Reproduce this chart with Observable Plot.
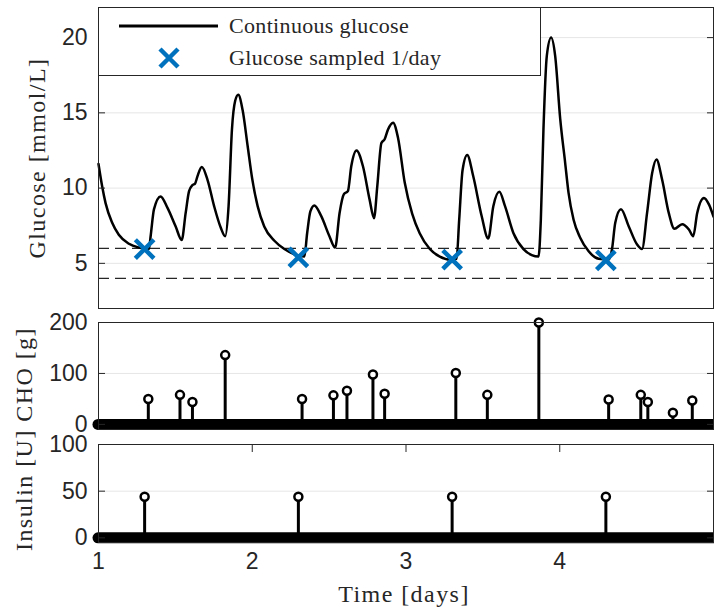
<!DOCTYPE html>
<html><head><meta charset="utf-8">
<script src="https://cdn.jsdelivr.net/npm/d3@7"></script>
<script src="https://cdn.jsdelivr.net/npm/@observablehq/plot@0.6"></script>
<style>
body{margin:0;background:#fff;}
#wrap{position:relative;width:714px;height:608px;overflow:hidden;background:#fff;}
#wrap > svg{overflow:visible;position:absolute;left:0;}
.lab{position:absolute;font-family:"Liberation Serif",serif;font-size:24px;color:#262626;white-space:nowrap;transform:translate(-50%,-50%);letter-spacing:0.06em;}
.rot{transform:translate(-50%,-50%) rotate(-90deg);}
#legend{position:absolute;left:98px;top:7px;width:441px;height:67px;border:1px solid #262626;background:#fff;box-sizing:content-box;}
#legend .row{position:absolute;left:0;height:30px;display:flex;align-items:center;font-family:"Liberation Serif",serif;font-size:22px;color:#262626;white-space:nowrap;letter-spacing:0.015em;}
</style></head><body><div id="wrap"></div><script>
// ---- data ----
const glucoseTime = [1.000,1.024,1.046,1.089,1.132,1.198,1.263,1.328,1.339,1.361,1.404,1.448,1.502,1.541,1.567,1.589,1.611,1.628,1.644,1.672,1.709,1.752,1.796,1.824,1.846,1.868,1.889,1.909,1.937,1.970,2.000,2.035,2.078,2.144,2.209,2.274,2.339,2.357,2.378,2.404,2.448,2.502,2.539,2.568,2.596,2.622,2.644,2.678,2.720,2.763,2.792,2.813,2.840,2.861,2.883,2.916,2.948,2.992,3.040,3.089,3.155,3.220,3.285,3.329,3.346,3.368,3.398,3.437,3.492,3.535,3.568,3.607,3.644,3.699,3.764,3.818,3.862,3.877,3.894,3.916,3.944,3.970,4.003,4.035,4.057,4.090,4.133,4.188,4.253,4.318,4.340,4.361,4.398,4.449,4.503,4.535,4.568,4.601,4.629,4.666,4.709,4.746,4.796,4.840,4.868,4.894,4.938,4.971,5.000];
const glucoseValue = [11.6,10.1,9.0,7.7,6.9,6.3,6.05,5.95,6.8,8.6,9.45,8.7,7.45,6.55,8.35,9.8,10.2,10.3,10.8,11.4,10.55,8.8,7.35,6.8,8.8,13.9,15.8,16.2,15.2,12.8,10.6,8.8,7.45,6.5,5.95,5.6,5.45,7.0,8.45,8.85,8.15,6.8,6.05,8.35,9.6,9.8,11.45,12.5,11.45,9.25,8.0,10.1,13.0,13.25,13.9,14.35,13.35,10.35,8.3,7.0,5.95,5.45,5.25,5.3,7.9,11.2,12.2,10.8,8.15,6.65,8.8,9.75,8.8,7.0,5.95,5.55,5.45,7.9,13.9,18.8,20.0,18.8,14.6,11.7,9.7,7.9,6.7,5.8,5.3,5.25,5.95,7.7,8.6,7.45,6.25,5.95,8.35,11.0,11.9,10.55,8.35,7.3,7.6,7.25,6.8,8.35,9.35,8.9,8.1];
const sampleTime = [1.3, 2.3, 3.3, 4.3];
const sampleValue = [5.95, 5.4, 5.25, 5.2];
const thresholds = [4, 6];
const choTime = [1.324,1.530,1.611,1.824,2.324,2.528,2.616,2.785,2.861,3.324,3.529,3.864,4.318,4.527,4.573,4.736,4.862];
const choValue = [50,58,44,136,50,57,66,98,60,101,58,200,49,58,44,23,47];
const insulinTime = [1.3, 2.3, 3.3, 4.3];
const insulinValue = [44, 44, 44, 44];
const xTicks = [1, 2, 3, 4];
const glucoseTicks = [5, 10, 15, 20];
const choTicks = [0, 100, 200];
const insulinTicks = [0, 50, 100];
const legendLabels = ["Continuous glucose", "Glucose sampled 1/day"];

const glucose = glucoseTime.map((t, i) => ({t, v: glucoseValue[i]}));
const samples = sampleTime.map((t, i) => ({t, v: sampleValue[i]}));
const cho = choTime.map((t, i) => ({t, v: choValue[i]}));
const insulin = insulinTime.map((t, i) => ({t, v: insulinValue[i]}));

const INK = "#262626";
const BLUE = "#0072BD";
const W = 714, ML = 98, MR = 1;
const style = {fontFamily: "'Liberation Sans', Arial, sans-serif", fontSize: "23px", color: INK, background: "transparent", overflow: "visible"};
const fmt = d => String(d);

function yAxes(ticks) {
  return [
    Plot.axisY(ticks, {anchor: "left", tickSize: -7, tickPadding: 18, tickFormat: fmt, label: null, stroke: INK}),
    Plot.axisY(ticks, {anchor: "right", tickSize: -7, tickFormat: () => "", label: null, stroke: INK})
  ];
}

const wrap = document.getElementById("wrap");

// top panel: glucose
const p1 = Plot.plot({
  width: W, height: 312, marginLeft: ML, marginRight: MR, marginTop: 7, marginBottom: 4,
  style,
  x: {domain: [1, 5], axis: null},
  y: {domain: [2, 22], axis: null},
  marks: [
    Plot.gridY(glucoseTicks, {stroke: "#000", strokeOpacity: 0.1}),
    Plot.ruleY(thresholds, {stroke: INK, strokeWidth: 1.2, strokeDasharray: "11,6"}),
    Plot.line(glucose, {x: "t", y: "v", curve: "monotone-x", stroke: "#000", strokeWidth: 2.5}),
    Plot.dot(samples, {x: "t", y: "v", symbol: "times", r: 8.5, stroke: BLUE, strokeWidth: 4.5}),
    ...yAxes(glucoseTicks),
    Plot.frame({stroke: INK})
  ]
});
p1.style.top = "0px";
wrap.appendChild(p1);

// middle panel: CHO
const p2 = Plot.plot({
  width: W, height: 120, marginLeft: ML, marginRight: MR, marginTop: 10, marginBottom: 3,
  style,
  x: {domain: [1, 5], axis: null},
  y: {domain: [-10, 200], axis: null},
  marks: [
    Plot.gridY(choTicks, {stroke: "#000", strokeOpacity: 0.1}),
    Plot.ruleY([0], {stroke: "#000", strokeWidth: 11, strokeLinecap: "round"}),
    Plot.ruleX(cho, {x: "t", y1: () => 0, y2: "v", stroke: "#000", strokeWidth: 3}),
    Plot.dot(cho, {x: "t", y: "v", r: 4, fill: "#fff", stroke: "#000", strokeWidth: 2.5}),
    ...yAxes(choTicks),
    Plot.frame({stroke: INK})
  ]
});
p2.style.top = "312px";
wrap.appendChild(p2);

// bottom panel: insulin
const p3 = Plot.plot({
  width: W, height: 176, marginLeft: ML, marginRight: MR, marginTop: 12, marginBottom: 66,
  style,
  x: {domain: [1, 5], axis: null},
  y: {domain: [-5, 100], axis: null},
  marks: [
    Plot.gridY(insulinTicks, {stroke: "#000", strokeOpacity: 0.1}),
    Plot.axisX(xTicks, {anchor: "top", tickSize: -7, tickFormat: () => "", label: null, stroke: INK}),
    Plot.axisX(xTicks, {anchor: "bottom", tickSize: -7, tickPadding: 17, tickFormat: fmt, label: null, stroke: INK}),
    Plot.ruleY([0], {stroke: "#000", strokeWidth: 11, strokeLinecap: "round"}),
    Plot.ruleX(insulin, {x: "t", y1: () => 0, y2: "v", stroke: "#000", strokeWidth: 3}),
    Plot.dot(insulin, {x: "t", y: "v", r: 4, fill: "#fff", stroke: "#000", strokeWidth: 2.5}),
    ...yAxes(insulinTicks),
    Plot.frame({stroke: INK})
  ]
});
p3.style.top = "432px";
wrap.appendChild(p3);

// legend
const legend = document.createElement("div");
legend.id = "legend";
legend.innerHTML = `
  <div class="row" style="top:3px"><svg width="130" height="30"><line x1="20" y1="15" x2="119" y2="15" stroke="#000" stroke-width="3"/></svg><span>${legendLabels[0]}</span></div>
  <div class="row" style="top:35px"><svg width="130" height="30"><path d="M61,6L79,24M61,24L79,6" stroke="${BLUE}" stroke-width="4.5"/></svg><span>${legendLabels[1]}</span></div>`;
wrap.appendChild(legend);

// axis titles
function label(text, x, y, rotate) {
  const d = document.createElement("div");
  d.className = "lab" + (rotate ? " rot" : "");
  d.textContent = text;
  d.style.left = x + "px";
  d.style.top = y + "px";
  wrap.appendChild(d);
}
label("Glucose [mmol/L]", 37, 158, true);
label("Insulin [U] CHO [g]", 24, 439, true);
label("Time [days]", 404, 594, false);
</script></body></html>
